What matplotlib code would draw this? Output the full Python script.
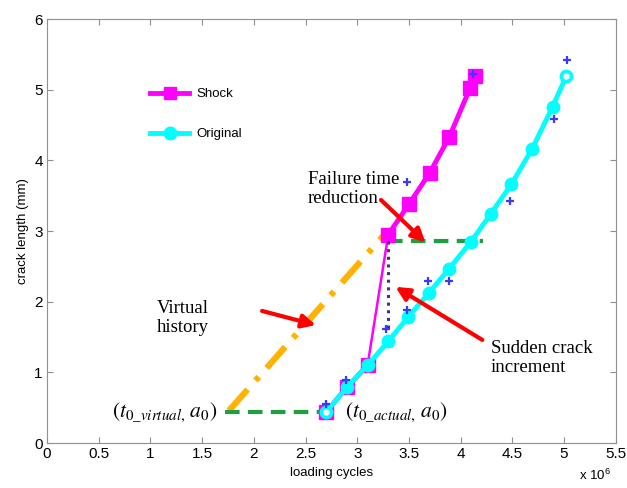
import numpy as np
import matplotlib
matplotlib.use("Agg")
import matplotlib.pyplot as plt

plt.rcParams['font.family'] = ['Liberation Sans', 'DejaVu Sans']
plt.rcParams['mathtext.fontset'] = 'stix'

# --- data (cycles in 1e6, crack length in mm) ---
shock_x = [2.70, 2.90, 3.10, 3.30, 3.50, 3.70, 3.89, 4.09, 4.14]
shock_y = [0.44, 0.79, 1.10, 2.95, 3.38, 3.82, 4.33, 5.02, 5.20]

orig_x = [2.70, 2.90, 3.10, 3.30, 3.49, 3.69, 3.89, 4.10, 4.29, 4.49, 4.69, 4.89, 5.02]
orig_y = [0.44, 0.79, 1.10, 1.44, 1.78, 2.12, 2.47, 2.85, 3.24, 3.66, 4.16, 4.76, 5.19]

meas_x = [2.70, 2.89, 3.28, 3.48, 3.68, 3.89, 3.48, 4.12, 4.48, 4.90, 5.03]
meas_y = [0.56, 0.89, 1.62, 1.88, 2.29, 2.29, 3.70, 5.22, 3.42, 4.59, 5.42]

virtual_x = [1.76, 3.28]
virtual_y = [0.46, 2.98]

a0_line_x = [1.72, 2.70]
a0_line_y = [0.44, 0.44]
fail_line_x = [3.30, 4.22]
fail_line_y = [2.86, 2.86]
jump_x = [3.30, 3.30]
jump_y = [2.86, 1.62]

# arrows: (tail, head)
arrows = [((3.23, 3.44), (3.66, 2.84)),
          ((2.08, 1.87), (2.60, 1.67)),
          ((4.21, 1.46), (3.37, 2.21))]

xticks = [0, 0.5, 1, 1.5, 2, 2.5, 3, 3.5, 4, 4.5, 5, 5.5]
xticklabels = ['0', '0.5', '1', '1.5', '2', '2.5', '3', '3.5', '4', '4.5', '5', '5.5']
yticks = [0, 1, 2, 3, 4, 5, 6]

fig = plt.figure(figsize=(6.27, 4.88), dpi=100)
ax = fig.add_axes([0.075, 0.092, 0.907, 0.869])

# helper lines
ax.plot(virtual_x, virtual_y, color='#FFB300', lw=4.5,
        linestyle=(0, (4.5, 1.9, 0.8, 1.9)), zorder=2)
ax.plot(a0_line_x, a0_line_y, color='#1FA040', lw=3,
        linestyle=(0, (3.5, 2)), zorder=3)
ax.plot(fail_line_x, fail_line_y, color='#1FA040', lw=3,
        linestyle=(0, (3.5, 2)), zorder=3)

# shock curve: thick, with a thin jump segment
ax.plot(shock_x[:3], shock_y[:3], color='magenta', lw=3.5, zorder=4)
ax.plot(shock_x[2:4], shock_y[2:4], color='magenta', lw=1.8, zorder=4)
ax.plot(shock_x[3:], shock_y[3:], color='magenta', lw=3.5, zorder=4)
ax.plot(shock_x, shock_y, color='magenta', lw=0, marker='s', ms=10, zorder=4)
ax.plot([], [], color='magenta', lw=3.5, marker='s', ms=9, label='Shock')

ax.plot(jump_x, jump_y, color='#4B2A8C', lw=2.2, linestyle=(0, (1, 1.5)), zorder=5)

ax.plot(orig_x, orig_y, color='cyan', lw=3.5, marker='o', ms=9, zorder=6,
        label='Original')
ax.plot([orig_x[0], orig_x[-1]], [orig_y[0], orig_y[-1]], lw=0, marker='o',
        ms=3.5, color='white', zorder=7)

ax.plot(meas_x, meas_y, lw=0, marker='+', ms=6, mew=1.6, color='#3A3AFF', zorder=8)

for tail, head in arrows:
    ax.annotate('', xy=head, xytext=tail,
                arrowprops=dict(arrowstyle='-|>', color='red', lw=3,
                                mutation_scale=20, shrinkA=0, shrinkB=0),
                zorder=9)

serif = ['Liberation Serif', 'DejaVu Serif']
ax.text(2.52, 3.60, 'Failure time\nreduction', family=serif, fontsize=13.5,
        va='center', ha='left', linespacing=1.15)
ax.text(1.06, 1.77, 'Virtual\nhistory', family=serif, fontsize=13.5,
        va='center', ha='left', linespacing=1.15)
ax.text(4.29, 1.20, 'Sudden crack\nincrement', family=serif, fontsize=13.5,
        va='center', ha='left', linespacing=1.15)
ax.text(0.63, 0.44, r'$(t_{0\_virtual,}\,a_0)$', fontsize=15.5, va='center', ha='left')
ax.text(2.88, 0.44, r'$(t_{0\_actual,}\,a_0)$', fontsize=15.5, va='center', ha='left')

ax.set_xlim(0, 5.5)
ax.set_ylim(0, 6)
ax.set_xticks(xticks)
ax.set_xticklabels(xticklabels)
ax.set_yticks(yticks)
ax.tick_params(direction='in', top=True, right=True, length=4, color='#909090',
               labelsize=11, pad=3)
for s in ax.spines.values():
    s.set_color('#909090')
ax.set_xlabel('loading cycles', fontsize=9.5)
ax.set_ylabel('crack length (mm)', fontsize=9.5)
fig.text(0.975, 0.01, r'x 10$\mathregular{^6}$', fontsize=9.5, ha='right', va='bottom',
         family=['Liberation Sans'])

leg = ax.legend(loc='upper left', bbox_to_anchor=(0.16, 0.865), frameon=False,
                fontsize=9.5, handlelength=3, labelspacing=2.1, handletextpad=0.5)

fig.savefig('out.png', dpi=100)
